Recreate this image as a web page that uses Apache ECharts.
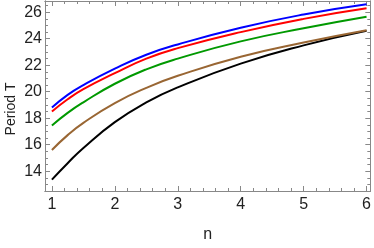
<!DOCTYPE html>
<html><head><meta charset="utf-8">
<script src="https://cdn.jsdelivr.net/npm/echarts@6/dist/echarts.min.js"></script>
<style>html,body{margin:0;padding:0;background:#fff}#c{width:374px;height:248px}</style>
</head><body><div id="c"></div>
<script>
var nValues = [1, 1.25, 1.5, 2, 2.5, 3, 4, 5, 6];
var blueT  = [18.8, 19.76, 20.5, 21.74, 22.79, 23.57, 24.83, 25.83, 26.6];
var redT   = [18.5, 19.43, 20.19, 21.4, 22.5, 23.29, 24.5, 25.5, 26.3];
var greenT = [17.45, 18.4, 19.2, 20.6, 21.69, 22.5, 23.8, 24.79, 25.66];
var brownT = [15.6, 16.72, 17.65, 19.14, 20.29, 21.2, 22.64, 23.71, 24.64];
var blackT = [13.36, 14.6, 15.75, 17.7, 19.19, 20.33, 22.12, 23.5, 24.6];
var xTicks = [1, 2, 3, 4, 5, 6];
var yTicks = [14, 16, 18, 20, 22, 24, 26];

var XMIN = 0.89, XMAX = 6.06, YMIN = 12.5, YMAX = 26.85;
function minorList(lo, hi, step, majors) {
  var out = [];
  for (var v = Math.ceil(lo / step) * step; v <= hi + 1e-9; v += step) {
    var r = Math.round(v * 100) / 100;
    if (majors.indexOf(r) < 0) out.push(r);
  }
  return out;
}
var xMinor = minorList(XMIN, XMAX, 0.2, xTicks);
var yMinor = minorList(YMIN, YMAX, 0.5, yTicks);
var frame = '#888';
var FF = 'Liberation Sans, Arial, sans-serif';

function xAx(pos, ticks, len, labels, name) {
  var a = {
    type: 'value', position: pos, min: XMIN, max: XMAX,
    axisLine: {show: true, onZero: false, lineStyle: {color: frame, width: 1}},
    axisTick: {show: true, inside: true, length: len, customValues: ticks, lineStyle: {color: frame}},
    axisLabel: {show: labels, customValues: ticks, margin: 6, fontFamily: FF, fontSize: 16, color: '#222'},
    splitLine: {show: false}
  };
  if (name) { a.name = name; a.nameLocation = 'middle'; a.nameGap = 36; a.nameTextStyle = {fontFamily: FF, fontSize: 16, color: '#222'}; }
  return a;
}
function yAx(pos, ticks, len, labels) {
  return {
    type: 'value', position: pos, min: YMIN, max: YMAX,
    axisLine: {show: true, onZero: false, lineStyle: {color: frame, width: 1}},
    axisTick: {show: true, inside: true, length: len, customValues: ticks, lineStyle: {color: frame}},
    axisLabel: {show: labels, customValues: ticks, margin: 3, fontFamily: FF, fontSize: 16, color: '#222'},
    splitLine: {show: false}
  };
}
function pairs(ys) { return nValues.map(function (n, i) { return [n, ys[i]]; }); }
function ser(ys, color) {
  return {type: 'line', data: pairs(ys), smooth: 0.5, showSymbol: false, symbol: 'none',
    lineStyle: {color: color, width: 2}, itemStyle: {color: color}, animation: false, xAxisIndex: 0, yAxisIndex: 0};
}
var chart = echarts.init(document.getElementById('c'), null, {renderer: 'canvas'});
chart.setOption({
  animation: false,
  grid: {left: 45, right: 3, top: 1, bottom: 47, containLabel: false},
  graphic: [{
    type: 'text', x: 11, y: 109, rotation: Math.PI / 2,
    style: {text: 'Period T', font: '14px ' + FF, fill: '#222', align: 'center', verticalAlign: 'middle'}
  }],
  xAxis: [
    xAx('bottom', xTicks, 5, true, 'n'),
    xAx('bottom', xMinor, 3, false),
    xAx('top', xTicks, 5, false),
    xAx('top', xMinor, 3, false)
  ],
  yAxis: [
    yAx('left', yTicks, 5, true),
    yAx('left', yMinor, 3, false),
    yAx('right', yTicks, 5, false),
    yAx('right', yMinor, 3, false)
  ],
  series: [
    ser(blackT, '#000000'),
    ser(brownT, '#996633'),
    ser(greenT, '#009900'),
    ser(redT, '#ff0000'),
    ser(blueT, '#0000ff')
  ]
});
</script></body></html>
